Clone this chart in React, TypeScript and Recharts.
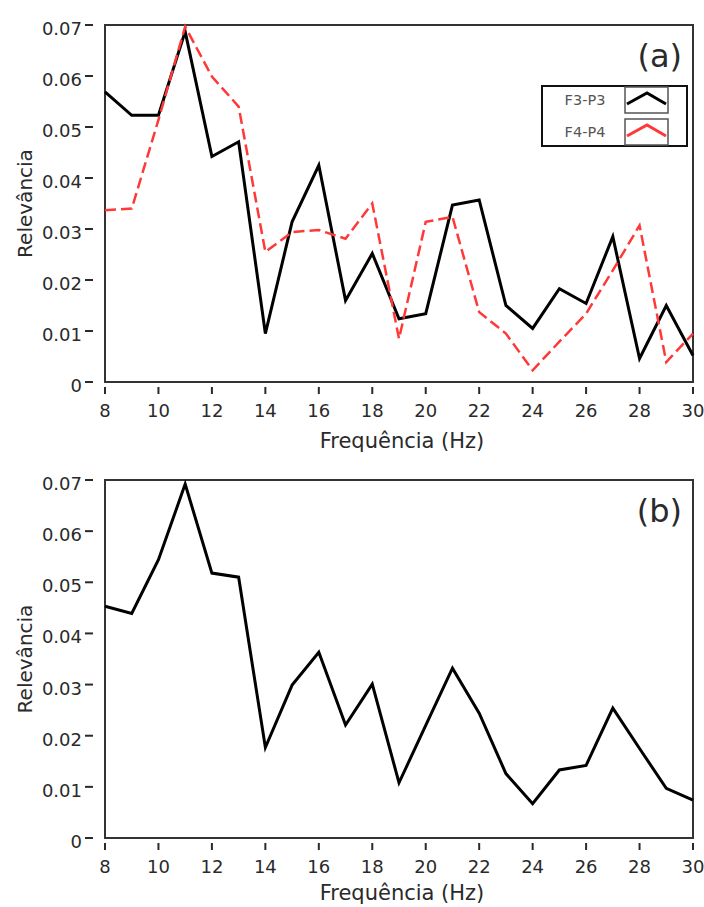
import React from "react"
import { LineChart, Line, XAxis, YAxis, ReferenceArea, Legend } from "recharts"

const freq = [8, 9, 10, 11, 12, 13, 14, 15, 16, 17, 18, 19, 20, 21, 22, 23, 24, 25, 26, 27, 28, 29, 30]
const f3p3 = [0.0569, 0.0523, 0.0523, 0.0687, 0.0442, 0.0471, 0.0095, 0.0314, 0.0425, 0.016, 0.0252, 0.0124, 0.0134, 0.0347, 0.0357, 0.015, 0.0105, 0.0183, 0.0154, 0.0285, 0.0046, 0.015, 0.0052]
const f4p4 = [0.0337, 0.034, 0.0514, 0.0697, 0.0599, 0.054, 0.0255, 0.0294, 0.0298, 0.0281, 0.035, 0.0085, 0.0314, 0.0324, 0.0137, 0.0095, 0.0023, 0.0079, 0.0134, 0.0219, 0.0307, 0.0039, 0.0095]
const combined = [0.0453, 0.0439, 0.0544, 0.0692, 0.0518, 0.051, 0.0177, 0.0299, 0.0363, 0.0221, 0.0301, 0.0108, 0.022, 0.0332, 0.0244, 0.0126, 0.0067, 0.0133, 0.0142, 0.0254, 0.0175, 0.0097, 0.0074]

const xTicks = [8, 10, 12, 14, 16, 18, 20, 22, 24, 26, 28, 30]
const yTicks = [0, 0.01, 0.02, 0.03, 0.04, 0.05, 0.06, 0.07]
const xTitle = "Frequência (Hz)"
const yTitle = "Relevância"

const topData = freq.map((f, i) => ({ f, a: f3p3[i], b: f4p4[i] }))
const bottomData = freq.map((f, i) => ({ f, c: combined[i] }))

const FONT = "DejaVu Sans"
const TXT = "#2a2a2a"

function YTick({ x, y, payload }: any) {
  const v = payload.value
  return (
    <g>
      <line x1={x - 20} x2={x - 12} y1={y} y2={y} stroke={TXT} strokeWidth={2} />
      <text x={x - 23} y={y + 10} textAnchor="end" fontSize={18} fontFamily={FONT} fill={TXT}>
        {v === 0 ? "0" : v.toFixed(2)}
      </text>
    </g>
  )
}

function XTick({ x, y, payload }: any) {
  return (
    <g>
      <line x1={x} x2={x} y1={y + 5} y2={y + 12} stroke={TXT} strokeWidth={2} />
      <text x={x} y={y + 35} textAnchor="middle" fontSize={18} fontFamily={FONT} fill={TXT}>
        {payload.value}
      </text>
    </g>
  )
}

function LegendBox({ payload }: any) {
  const rows = payload || []
  return (
    <svg width={147} height={62} style={{ display: "block" }}>
      <rect x={1} y={1} width={145} height={60} fill="#fff" stroke="#111" strokeWidth={2} />
      {rows.map((entry: any, i: number) => {
        const top = 2 + i * 32
        return (
          <g key={entry.value}>
            <text x={44} y={top + 18} textAnchor="middle" fontSize={14.5} fontFamily={FONT} fill="#555">
              {entry.value}
            </text>
            <rect x={84} y={top} width={43} height={26} fill="#fff" stroke="#555" strokeWidth={1.5} />
            <polyline
              points={`${86},${top + 17} ${106},${top + 6} ${125},${top + 17}`}
              fill="none"
              stroke={entry.color}
              strokeWidth={3}
            />
          </g>
        )
      })}
    </svg>
  )
}

function Panel({ tag, height, xAxisHeight, titleDy, data, children, legend }: any) {
  return (
    <LineChart width={704} height={height} data={data} margin={{ top: 25, right: 11, left: 0, bottom: 0 }}>
      <XAxis
        dataKey="f"
        type="number"
        domain={[8, 30]}
        ticks={xTicks}
        height={xAxisHeight}
        axisLine={false}
        tickLine={false}
        tickSize={0}
        tickMargin={0}
        tick={<XTick />}
        label={{
          value: xTitle,
          content: ({ viewBox }: any) => (
            <text
              x={viewBox.x + viewBox.width / 2 + 3}
              y={viewBox.y + titleDy}
              textAnchor="middle"
              fontSize={21}
              fontFamily={FONT}
              fill={TXT}
            >
              {xTitle}
            </text>
          ),
        }}
      />
      <YAxis
        type="number"
        domain={[0, 0.07]}
        ticks={yTicks}
        width={105}
        axisLine={false}
        tickLine={false}
        tickSize={0}
        tickMargin={0}
        tick={<YTick />}
        label={{
          value: yTitle,
          content: ({ viewBox }: any) => {
            const cx = 25
            const cy = viewBox.y + viewBox.height / 2
            return (
              <text
                x={cx}
                y={cy}
                transform={`rotate(-90 ${cx} ${cy})`}
                textAnchor="middle"
                dominantBaseline="central"
                fontSize={20}
                fontFamily={FONT}
                fill={TXT}
              >
                {yTitle}
              </text>
            )
          },
        }}
      />
      {children}
      <ReferenceArea
        x1={8}
        x2={30}
        y1={0}
        y2={0.07}
        fill="none"
        fillOpacity={0}
        stroke="#333"
        strokeWidth={2}
        label={{
          value: tag,
          content: ({ viewBox }: any) => (
            <text
              x={viewBox.x + viewBox.width - 11}
              y={viewBox.y + 42}
              textAnchor="end"
              fontSize={32}
              fontFamily={FONT}
              fill={TXT}
            >
              {tag}
            </text>
          ),
        }}
      />
      {legend}
    </LineChart>
  )
}

export default function App() {
  return (
    <div style={{ position: "absolute", left: 0, top: 0, width: 704, height: 907, background: "#fff" }}>
      <Panel
        tag="(a)"
        height={455}
        xAxisHeight={73}
        titleDy={66}
        data={topData}
        legend={
          <Legend
            layout="vertical"
            align="center"
            verticalAlign="middle"
            content={<LegendBox />}
            wrapperStyle={{ position: "absolute", left: 541, top: 85, width: 147, height: 62 }}
          />
        }
      >
        <Line dataKey="a" name="F3-P3" stroke="#000" strokeWidth={3} dot={false} isAnimationActive={false} />
        <Line
          dataKey="b"
          name="F4-P4"
          stroke="#ff3838"
          strokeWidth={2.5}
          strokeDasharray="11 5"
          dot={false}
          isAnimationActive={false}
        />
      </Panel>
      <Panel tag="(b)" height={452} xAxisHeight={69} titleDy={62} data={bottomData}>
        <Line dataKey="c" stroke="#000" strokeWidth={3} dot={false} isAnimationActive={false} />
      </Panel>
    </div>
  )
}
